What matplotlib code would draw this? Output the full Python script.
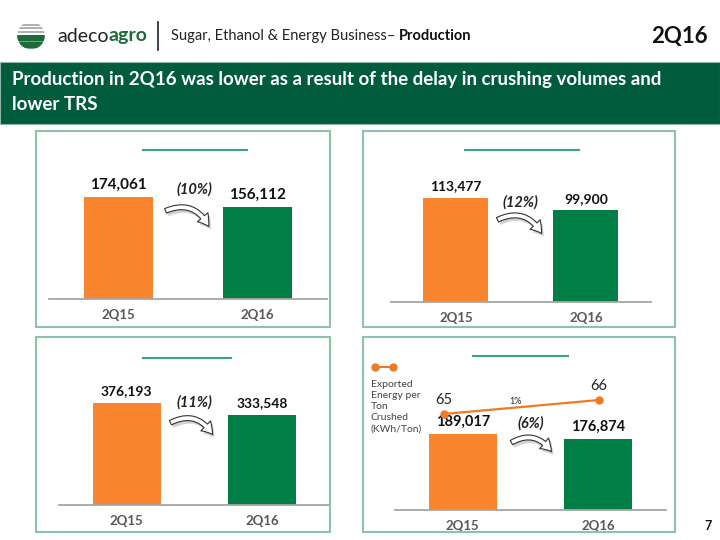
import matplotlib.pyplot as plt
from matplotlib.patches import Rectangle, FancyArrowPatch, Circle

plt.rcParams['font.family'] = ['Lato', 'DejaVu Sans']

# ---------------- Datos ----------------
quarters = ['2Q15', '2Q16']
crushing = [174061, 156112]
sugar = [113477, 99900]
ethanol = [376193, 333548]
energy = [189017, 176874]
energy_per_ton = [65, 66]
pct_changes = ['(10%)', '(12%)', '(11%)', '(6%)']
energy_per_ton_change = '1%'

ORANGE = '#F9862E'
GREEN = '#007E45'
DARK_GREEN = '#005C3C'
LINE_GREEN = '#3AA37A'
BORDER = '#8CC4A8'
GRAY = '#595959'

W, H = 720, 540
fig = plt.figure(figsize=(7.2, 5.4), dpi=100)


def box(x0, y0, x1, y1):
    # pixeles (origen arriba-izquierda) -> coordenadas de figura
    return [x0 / W, 1 - y1 / H, (x1 - x0) / W, (y1 - y0) / H]


def fp(x, y):
    return (x / W, 1 - y / H)


# ---------------- Cabecera ----------------
logo = fig.add_axes(box(16, 21, 46, 50))
logo.set_xlim(-1, 1)
logo.set_ylim(-1, 1)
logo.set_aspect('equal')
logo.axis('off')
circ = Circle((0, 0), 0.95, facecolor='white', edgecolor='none')
logo.add_patch(circ)
for yy in [0.75, 0.5, 0.25, 0.0, -0.25, -0.5, -0.75]:
    c = '#9aa59a' if yy > 0 else '#1E6B3A'
    ln, = logo.plot([-1, 1], [yy, yy], color=c, lw=2.2 if yy <= 0 else 1.2)
    ln.set_clip_path(circ)
bot = Rectangle((-1, -1), 2, 0.9, facecolor='#1E6B3A', alpha=0.6)
logo.add_patch(bot)
bot.set_clip_path(circ)

t1 = fig.text(57 / W, 1 - 36 / H, 'adeco', fontsize=14, color='#222222', va='center', ha='left')
plt.annotate('agro', xy=(1, 0.5), xycoords=t1, fontsize=14, color='#1E6B3A',
             fontweight='bold', va='center', ha='left')
fig.add_artist(plt.Line2D([158 / W, 158 / W], [1 - 22 / H, 1 - 50 / H], color='#333333', lw=1.3))
s1 = fig.text(171 / W, 1 - 36 / H, 'Sugar, Ethanol & Energy Business\u2013 ', fontsize=10.5,
              color='#222222', va='center', ha='left')
plt.annotate('Production', xy=(1, 0.5), xycoords=s1, fontsize=10.5, color='#111111',
             fontweight='bold', va='center', ha='left')
fig.text(708 / W, 1 - 36 / H, '2Q16', fontsize=16, fontweight='bold', color='#111111',
         va='center', ha='right')

# Banda verde
fig.add_artist(Rectangle(fp(0, 124), 1, 62 / H, transform=fig.transFigure,
                         facecolor=DARK_GREEN, edgecolor='#8CB8A4', lw=0.8))
fig.text(12 / W, 1 - 79 / H, 'Production in 2Q16 was lower as a result of the delay in crushing volumes and',
         fontsize=13.5, fontweight='bold', color='white', va='center', ha='left')
fig.text(12 / W, 1 - 104 / H, 'lower TRS', fontsize=13.5, fontweight='bold', color='white',
         va='center', ha='left')

# ---------------- Paneles ----------------
panels = [
    # datos, borde, línea título, ejes, ymax, pct pos, flecha, tamaño etiqueta
    (crushing, (36, 131, 330, 327), (143, 247, 150), (49, 160, 327, 299), 237000, (194, 189), ((163, 212), (210, 229)), 11),
    (sugar, (363, 131, 675, 327), (465, 579, 150), (391, 160, 651, 302), 154900, (520, 202), ((495, 221), (543, 236)), 10),
    (ethanol, (36, 337, 330, 532), (143, 231, 358), (59, 365, 330, 505), 516300, (194, 402), ((168, 424), (214, 437)), 10),
    (energy, (363, 337, 675, 532), (473, 568, 356), (395, 365, 666, 510), 360600, (531, 423), ((509, 444), (553, 454)), 10.5),
]

for k, (vals, brd, tl, axb, ymax, ppos, arr, fs) in enumerate(panels):
    x0, y0, x1, y1 = brd
    fig.add_artist(Rectangle(fp(x0, y1), (x1 - x0) / W, (y1 - y0) / H, transform=fig.transFigure,
                             facecolor='none', edgecolor=BORDER, lw=1.5))
    fig.add_artist(plt.Line2D([tl[0] / W, tl[1] / W], [1 - tl[2] / H] * 2, color=LINE_GREEN, lw=1.5))

    ax = fig.add_axes(box(*axb))
    ax.patch.set_alpha(0)
    ax.bar([0, 1], vals, width=0.5, color=[ORANGE, GREEN])
    ax.set_xlim(-0.5, 1.5)
    ax.set_ylim(0, ymax)
    for sp in ['top', 'right', 'left']:
        ax.spines[sp].set_visible(False)
    ax.spines['bottom'].set_color('#A6A6A6')
    ax.spines['bottom'].set_linewidth(1.3)
    ax.set_yticks([])
    ax.set_xticks([0, 1])
    ax.set_xticklabels(quarters, fontsize=9.5, fontweight='bold', color=GRAY)
    ax.tick_params(axis='x', length=0, pad=7)
    for i, v in enumerate(vals):
        ax.annotate(f'{v:,}', (i, v), xytext=(0, 4), textcoords='offset points',
                    ha='center', va='bottom', fontsize=fs, fontweight='bold', color='#111111')

    fig.text(ppos[0] / W, 1 - ppos[1] / H, pct_changes[k], fontsize=10.5, fontweight='bold',
             style='italic', color='#222222', ha='center', va='center')

    # flecha curva con sombra
    (ax0, ay0), (ax1, ay1) = arr
    for off, fc, ec, al in [((2, 3), '#999999', 'none', 0.45), ((0, 0), 'white', '#333333', 1)]:
        fig.add_artist(FancyArrowPatch(fp(ax0 + off[0], ay0 + off[1]), fp(ax1 + off[0], ay1 + off[1]),
                                       transform=fig.transFigure, connectionstyle='arc3,rad=-0.5',
                                       arrowstyle='simple,head_width=10,head_length=8,tail_width=3.5',
                                       mutation_scale=1, facecolor=fc, edgecolor=ec, lw=0.8, alpha=al))

    if k == 3:
        # línea de energía exportada por tonelada (eje propio)
        ax2 = fig.add_axes(box(*axb))
        ax2.patch.set_alpha(0)
        ax2.plot([0, 1], energy_per_ton, color='#F07A22', lw=1.6, marker='o', markersize=5)
        ax2.set_ylim(58.14, 68.5)
        ax2.set_xlim(-0.316, 1.432)
        ax2.axis('off')
        for i, v in enumerate(energy_per_ton):
            ax2.annotate(f'{v}', (i, v), xytext=(0, 5), textcoords='offset points',
                         ha='center', va='bottom', fontsize=10.5, color='#222222')
        ax2.annotate(energy_per_ton_change, (0.46, 65.9), ha='center', va='center',
                     fontsize=6.5, color='#222222')

# Leyenda panel energía
fig.add_artist(plt.Line2D([375 / W, 393 / W], [1 - 367 / H] * 2, color='#F07A22', lw=1.5,
                          marker='o', markersize=5))
fig.text(371 / W, 1 - 380 / H, 'Exported\nEnergy per\nTon\nCrushed\n(KWh/Ton)', fontsize=7.5,
         color='#444444', ha='left', va='top', linespacing=1.3)

fig.text(708 / W, 1 - 526 / H, '7', fontsize=9, fontweight='bold', color='#111111',
         ha='center', va='center')

fig.savefig('out.png', dpi=100)
